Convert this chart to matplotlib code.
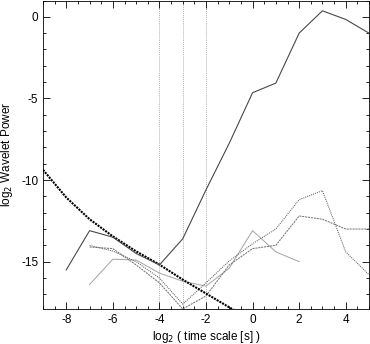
import matplotlib
matplotlib.use("Agg")
import matplotlib.pyplot as plt
from matplotlib.ticker import MultipleLocator

plt.rcParams['font.family'] = ['Liberation Sans', 'DejaVu Sans']

# Data
scales_main = [-8, -7, -6, -5, -4, -3, -2, -1, 0, 1, 2, 3, 4, 5]
power_main = [-15.5, -13.1, -13.5, -14.5, -15.2, -13.6, -10.6, -7.74, -4.65, -4.06, -1.0, 0.37, -0.16, -1.0]

scales_sig = [-9, -8, -7, -6, -5, -4, -3, -2, -1, 0]
power_sig = [-9.37, -11.07, -12.4, -13.45, -14.37, -15.18, -16.1, -16.95, -17.8, -18.6]

scales_ab = [-7, -6, -5, -4, -3, -2, -1, 0, 1, 2, 3, 4, 5]
power_a = [-14.0, -14.35, -15.0, -16.0, -17.6, -16.3, -14.95, -13.9, -13.0, -11.2, -10.65, -14.4, -15.8]
power_b = [-14.1, -14.2, -15.2, -16.3, -17.9, -17.1, -15.2, -14.2, -14.0, -12.2, -12.4, -13.0, -13.0]

scales_c = [-7, -6, -5, -4, -3, -2, -1, 0, 1, 2]
power_c = [-16.4, -14.85, -14.9, -15.7, -16.2, -16.5, -15.4, -13.1, -14.4, -15.0]

vlines_x = [-4, -3, -2]

xticks = [-8, -6, -4, -2, 0, 2, 4]
yticks = [0, -5, -10, -15]

fig = plt.figure(figsize=(3.70, 3.44), dpi=100)
ax = fig.add_axes([43/370, 35/344, 326/370, 308.5/344])

for xv in vlines_x:
    ax.axvline(xv, color='#b0b0b0', lw=0.7, ls=(0, (1, 1)), zorder=1)

ax.plot(scales_c, power_c, color='#a8a8a8', lw=0.75, zorder=2)
ax.plot(scales_ab, power_b, color='#777777', lw=0.75, ls=(0, (2, 0.8)), zorder=2)
ax.plot(scales_ab, power_a, color='#606060', lw=0.75, ls=(0, (1, 1)), zorder=2)
ax.plot(scales_sig, power_sig, color='black', lw=1.5, ls=(0, (1, 0.5)), zorder=3)
ax.plot(scales_main, power_main, color='#484848', lw=0.8, zorder=4)

ax.set_xlim(-9, 5)
ax.set_ylim(-17.9, 1)
ax.set_xticks(xticks)
ax.set_xticklabels([str(v) for v in xticks])
ax.set_yticks(yticks)
ax.set_yticklabels([str(v) for v in yticks])
ax.xaxis.set_minor_locator(MultipleLocator(0.5))
ax.yaxis.set_minor_locator(MultipleLocator(1))
ax.tick_params(which='both', direction='in', top=True, right=True, labelsize=8.5, width=0.6, colors='black')
ax.tick_params(which='major', length=5)
ax.tick_params(which='minor', length=2.5)
for s in ax.spines.values():
    s.set_linewidth(0.6)

ax.set_xlabel('log$_2$ ( time scale [s] )', fontsize=8.5, labelpad=2)
ax.set_ylabel('log$_2$ Wavelet Power', fontsize=8.5, labelpad=4)

fig.savefig('out.png', dpi=100)
